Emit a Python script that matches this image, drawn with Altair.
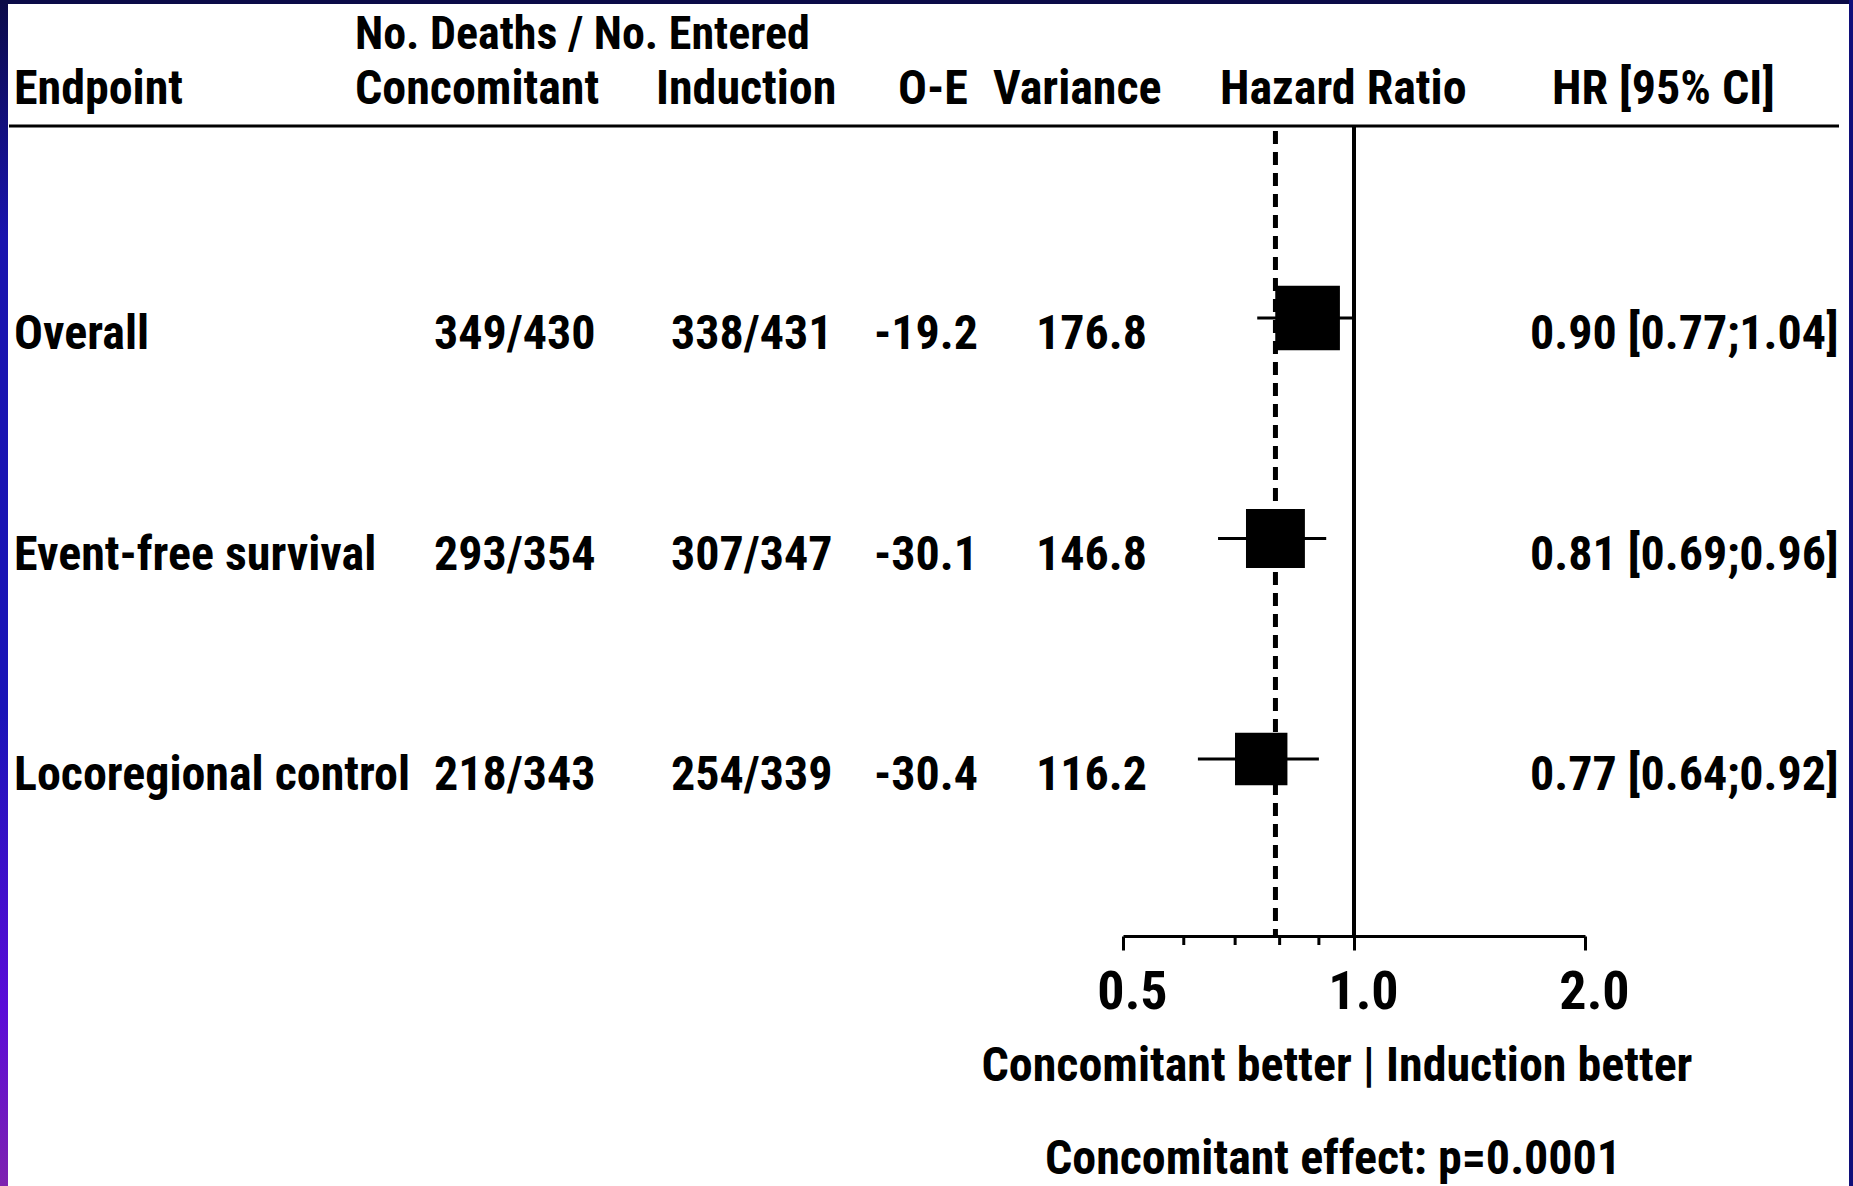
import altair as alt
import pandas as pd

# ---------------- data ----------------
endpoints = ["Overall", "Event-free survival", "Locoregional control"]
conc = ["349/430", "293/354", "218/343"]
induc = ["338/431", "307/347", "254/339"]
oe = ["-19.2", "-30.1", "-30.4"]
variance = [176.8, 146.8, 116.2]
hr_text = ["0.90 [0.77;1.04]", "0.81 [0.69;0.96]", "0.77 [0.64;0.92]"]
# positions of box / CI as drawn on the log axis
hr_plot = [0.87, 0.79, 0.757]
ci_lo = [0.748, 0.665, 0.626]
ci_hi = [0.997, 0.92, 0.90]
row = [1, 2, 3]
axis_ticks = [0.5, 1.0, 2.0]
minor_ticks = [0.6, 0.7, 0.8, 0.9]
pooled_hr = [0.79]
null_hr = [1.0]

rows = pd.DataFrame({
    "endpoint": endpoints, "conc": conc, "induc": induc, "oe": oe,
    "variance": variance, "hr_text": hr_text, "hr": hr_plot,
    "lo": ci_lo, "hi": ci_hi, "row": row,
})

# ---------------- layout ----------------
W, H = 1853, 1186
FONT = '"Roboto Condensed", "Open Sans Condensed", "Liberation Sans Narrow", sans-serif'
FS = 48
AXIS_Y = 936
RULE_Y = 126
one = pd.DataFrame({"a": [0]})

xscale = alt.Scale(type="log", domain=[0.5, 2.0], range=[1123, 1585])
yscale = alt.Scale(domain=[1, 3], range=[318, 759])
xaxis = alt.Axis(
    values=axis_ticks, format=".1f", title="", grid=False,
    tickSize=14, tickWidth=3, tickColor="black",
    domainWidth=3, domainColor="black",
    labelFont=FONT, labelFontSize=54, labelFontWeight="bold", labelColor="black",
    labelPadding=15, labelOffset=9, labelFlush=False, labelOverlap=False,
    offset=AXIS_Y - H,
)
Y = alt.Y("row:Q", scale=yscale, axis=None)


def txt(s, x, y, align="left", size=FS):
    return alt.Chart(pd.DataFrame({"t": [s]})).mark_text(
        align=align, baseline="alphabetic", font=FONT, fontSize=size,
        fontWeight="bold", color="black"
    ).encode(x=alt.value(x), y=alt.value(y), text="t:N")


def col(field, x, fmt=None):
    t = alt.Text(field, format=fmt) if fmt else alt.Text(field)
    return alt.Chart(rows).mark_text(
        align="left", baseline="alphabetic", dy=31, font=FONT, fontSize=FS,
        fontWeight="bold", color="black"
    ).encode(x=alt.value(x), y=Y, text=t)


grad = alt.LinearGradient(
    gradient="linear", x1=0, x2=0, y1=0, y2=1,
    stops=[
        alt.GradientStop(color="#0b0b48", offset=0),
        alt.GradientStop(color="#1a14ae", offset=0.2),
        alt.GradientStop(color="#1a14b8", offset=0.6),
        alt.GradientStop(color="#5a0cd8", offset=0.85),
        alt.GradientStop(color="#7e22b0", offset=1),
    ],
)

border_left = alt.Chart(one).mark_rect(fill=grad).encode(
    x=alt.value(0), x2=alt.value(8), y=alt.value(0), y2=alt.value(H))
border_top = alt.Chart(one).mark_rect(fill="#0b0b48").encode(
    x=alt.value(0), x2=alt.value(W), y=alt.value(0), y2=alt.value(4))
border_right = alt.Chart(one).mark_rect(fill="#10107a").encode(
    x=alt.value(W - 4), x2=alt.value(W), y=alt.value(0), y2=alt.value(H))

top_rule = alt.Chart(one).mark_rule(color="black", strokeWidth=3).encode(
    x=alt.value(9), x2=alt.value(1839), y=alt.value(RULE_Y))

headers = [
    txt("No. Deaths / No. Entered", 355, 49, size=46),
    txt("Endpoint", 14, 104),
    txt("Concomitant", 355, 104),
    txt("Induction", 656, 104),
    txt("O-E", 898, 104),
    txt("Variance", 993, 104),
    txt("Hazard Ratio", 1220, 104),
    txt("HR [95% CI]", 1552, 104),
]

cols = [
    col("endpoint:N", 14),
    col("conc:N", 434),
    col("induc:N", 671),
    col("oe:N", 874),
    col("variance:Q", 1036, ".1f"),
    col("hr_text:N", 1530),
]

null_line = alt.Chart(pd.DataFrame({"v": null_hr})).mark_rule(
    color="black", strokeWidth=4).encode(
    x=alt.X("v:Q", scale=xscale, axis=xaxis), y=alt.value(RULE_Y), y2=alt.value(AXIS_Y))

pooled_line = alt.Chart(pd.DataFrame({"v": pooled_hr})).mark_rule(
    color="black", strokeWidth=5, strokeDash=[13, 8]).encode(
    x=alt.X("v:Q", scale=xscale, axis=xaxis), y=alt.value(RULE_Y + 5), y2=alt.value(AXIS_Y))

minor = alt.Chart(pd.DataFrame({"v": minor_ticks})).mark_rule(
    color="black", strokeWidth=3).encode(
    x=alt.X("v:Q", scale=xscale, axis=xaxis), y=alt.value(AXIS_Y), y2=alt.value(AXIS_Y + 9))

ci = alt.Chart(rows).mark_rule(color="black", strokeWidth=3).encode(
    x=alt.X("lo:Q", scale=xscale, axis=xaxis), x2="hi:Q", y=Y)

boxes = alt.Chart(rows).mark_square(color="black", opacity=1, filled=True).encode(
    x=alt.X("hr:Q", scale=xscale, axis=xaxis), y=Y,
    size=alt.Size("variance:Q", scale=alt.Scale(domain=[0, 176.8], range=[0, 4180]), legend=None),
)

footer = [
    txt("Concomitant better  |  Induction better", 1337, 1081, align="center"),
    txt("Concomitant effect: p=0.0001", 1333, 1174, align="center"),
]

chart = alt.layer(
    border_left, border_top, border_right, top_rule,
    *headers, *cols,
    null_line, pooled_line, minor, ci, boxes,
    *footer,
).properties(
    width=W, height=H, padding=0, background="white",
    autosize=alt.AutoSizeParams(type="none"),
).configure_view(strokeWidth=0)

chart.save("out.html", embed_options={"renderer": "svg", "actions": False})
